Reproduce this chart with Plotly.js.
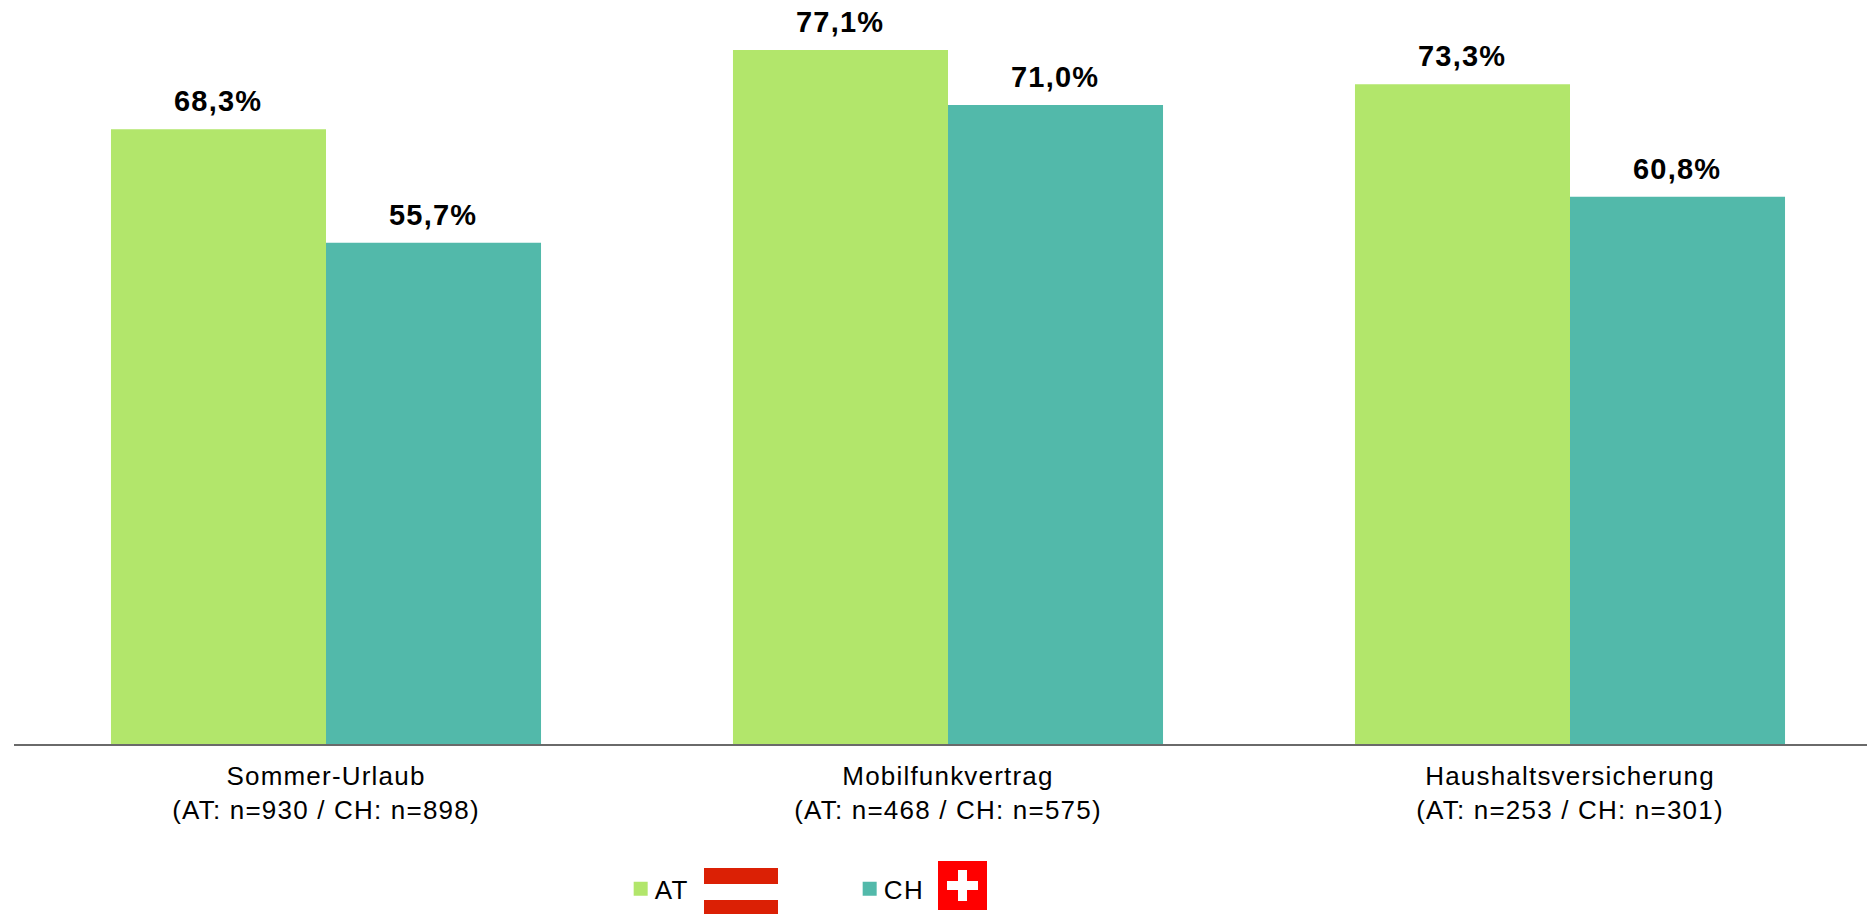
<!DOCTYPE html>
<html>
<head>
<meta charset="utf-8">
<script src="https://cdn.plot.ly/plotly-3.0.1.min.js"></script>
<style>
html,body{margin:0;padding:0;background:#fff;overflow:hidden}
#chart{width:1867px;height:914px}
.xtick text{letter-spacing:1.2px}
.annotation-text{letter-spacing:1.2px}
.legendtext{letter-spacing:1.5px}
</style>
</head>
<body>
<div id="chart"></div>
<script>
const categories = ["Sommer-Urlaub<br>(AT: n=930 / CH: n=898)", "Mobilfunkvertrag<br>(AT: n=468 / CH: n=575)", "Haushaltsversicherung<br>(AT: n=253 / CH: n=301)"];
const atValues = [68.3, 77.1, 73.3];
const chValues = [55.7, 71.0, 60.8];
const seriesNames = ["AT", "CH"];
const colors = ["#B2E66B", "#52B9AA"];
const FONT = "Liberation Sans, Arial, sans-serif";
const fmt = v => v.toFixed(1).replace(".", ",") + "%";

const BARW = 0.3457, PL = 14, PW = 1853, PH = 744;
const px = v => (v - PL) / PW, py = v => (PH - v) / PH;
function labels(vals, off, shift) {
  return vals.map((v, i) => ({
    x: i + off, y: v, xref: "x", yref: "y", text: "<b>" + fmt(v) + "</b>", showarrow: false,
    yanchor: "bottom", yshift: 10, xshift: shift, font: {family: FONT, size: 29, color: "#000"}
  }));
}
function rect(x0, x1, y0, y1, color) {
  return {type: "rect", xref: "paper", yref: "paper", x0: px(x0), x1: px(x1), y0: py(y1), y1: py(y0), fillcolor: color, line: {width: 0}};
}
const traces = [
  {type: "bar", name: seriesNames[0], x: categories, y: atValues, marker: {color: colors[0]}, hoverinfo: "y"},
  {type: "bar", name: seriesNames[1], x: categories, y: chValues, marker: {color: colors[1]}, hoverinfo: "y"}
];
const layout = {
  width: 1867, height: 914, paper_bgcolor: "#fff", plot_bgcolor: "#fff",
  margin: {l: PL, r: 0, t: 0, b: 914 - PH, pad: 0},
  barmode: "group", bargap: 1 - 2 * BARW, bargroupgap: 0,
  font: {family: FONT, color: "#000"},
  xaxis: {type: "category", range: [-0.5016, 2.4775], showgrid: false, showline: true, linecolor: "#6a6a6a", linewidth: 1.5,
          ticks: "", ticklabelstandoff: 8, tickfont: {family: FONT, size: 26, color: "#000"}, automargin: false, fixedrange: true},
  yaxis: {range: [0, PH / 9.0], visible: false, fixedrange: true},
  showlegend: true,
  legend: {orientation: "h", x: 0.3274, xanchor: "left", y: -0.1948, yanchor: "middle", yref: "paper",
           font: {family: FONT, size: 26, color: "#000"}, entrywidth: 184, entrywidthmode: "pixels",
           itemclick: false, itemdoubleclick: false, bgcolor: "rgba(0,0,0,0)", traceorder: "normal"},
  annotations: labels(atValues, -BARW / 2, 0).concat(labels(chValues, BARW / 2, -1)),
  shapes: [
    rect(704, 778, 868, 884, "#DB2005"),
    rect(704, 778, 900, 914, "#DB2005"),
    rect(938, 987, 861, 910, "#FF0000"),
    rect(958, 967, 870, 901, "#FFFFFF"),
    rect(947, 978, 881, 890, "#FFFFFF")
  ]
};
Plotly.newPlot("chart", traces, layout, {displayModeBar: false, responsive: false}).then(gd => {
  // closer swatch and label spacing than the native legend allows
  gd.querySelectorAll(".legend .legendtext").forEach(t => t.setAttribute("x", +t.getAttribute("x") - 6));
  gd.querySelectorAll(".legend .legendpoints path").forEach(p => p.setAttribute("d", "M7,7H-7V-7H7Z"));
});
</script>
</body>
</html>
